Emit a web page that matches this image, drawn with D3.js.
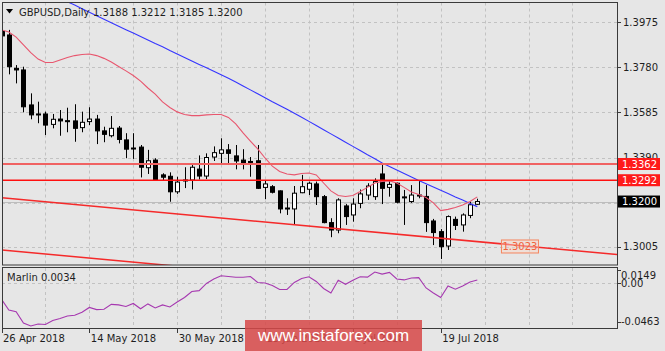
<!DOCTYPE html>
<html><head><meta charset="utf-8">
<script src="https://cdn.jsdelivr.net/npm/d3@7"></script>
<style>html,body{margin:0;padding:0;background:#e6e6e6;overflow:hidden}</style>
</head><body>
<svg id="c" width="665" height="351"></svg>
<script>
// ---------- DATA ----------
const dates = ["2018-04-26","2018-04-27","2018-04-30","2018-05-01","2018-05-02","2018-05-03","2018-05-04","2018-05-07","2018-05-08","2018-05-09",
"2018-05-10","2018-05-11","2018-05-14","2018-05-15","2018-05-16","2018-05-17","2018-05-18","2018-05-21","2018-05-22","2018-05-23",
"2018-05-24","2018-05-25","2018-05-28","2018-05-29","2018-05-30","2018-05-31","2018-06-01","2018-06-04","2018-06-05","2018-06-06",
"2018-06-07","2018-06-08","2018-06-11","2018-06-12","2018-06-13","2018-06-14","2018-06-15","2018-06-18","2018-06-19","2018-06-20",
"2018-06-21","2018-06-22","2018-06-25","2018-06-26","2018-06-27","2018-06-28","2018-06-29","2018-07-02","2018-07-03","2018-07-04",
"2018-07-05","2018-07-06","2018-07-09","2018-07-10","2018-07-11","2018-07-12","2018-07-13","2018-07-16","2018-07-17","2018-07-18",
"2018-07-19","2018-07-20","2018-07-23","2018-07-24","2018-07-25","2018-07-26"];

const open  = [1.3934,1.3919,1.3775,1.3768,1.3617,1.3578,1.3578,1.3533,1.3556,1.3549,1.3548,1.3519,1.3545,1.3556,1.3505,1.3484,1.3517,1.3466,1.3431,1.3435,
1.3346,1.3379,1.3315,1.3309,1.3242,1.3293,1.3293,1.3340,1.3310,1.3392,1.3408,1.3423,1.3397,1.3379,1.3373,1.3376,1.3261,1.3264,1.3246,1.3172,
1.3168,1.3238,1.3253,1.3276,1.3221,1.3109,1.3077,1.3181,1.3142,1.3192,1.3228,1.3221,1.3319,1.3261,1.3279,1.3220,1.3200,1.3228,1.3222,1.3116,
1.3070,1.3008,1.3123,1.3099,1.3140,1.3188];
const high  = [1.3949,1.3941,1.3789,1.3782,1.3667,1.3631,1.3588,1.3578,1.3595,1.3605,1.3620,1.3588,1.3607,1.3574,1.3523,1.3569,1.3526,1.3495,1.3495,1.3444,
1.3423,1.3387,1.3322,1.3326,1.3307,1.3348,1.3365,1.3399,1.3408,1.3438,1.3473,1.3448,1.3444,1.3426,1.3392,1.3444,1.3293,1.3271,1.3248,1.3214,
1.3267,1.3315,1.3286,1.3286,1.3228,1.3128,1.3214,1.3189,1.3214,1.3252,1.3279,1.3300,1.3362,1.3290,1.3282,1.3250,1.3271,1.3293,1.3271,1.3125,
1.3081,1.3140,1.3135,1.3149,1.3199,1.3212];
const low   = [1.3906,1.3749,1.3710,1.3585,1.3555,1.3538,1.3487,1.3516,1.3484,1.3499,1.3458,1.3499,1.3530,1.3448,1.3456,1.3477,1.3451,1.3387,1.3384,1.3304,
1.3319,1.3291,1.3293,1.3199,1.3233,1.3258,1.3252,1.3295,1.3297,1.3375,1.3366,1.3365,1.3339,1.3339,1.3307,1.3254,1.3210,1.3235,1.3149,1.3142,
1.3102,1.3236,1.3228,1.3185,1.3106,1.3046,1.3063,1.3099,1.3113,1.3171,1.3207,1.3207,1.3189,1.3221,1.3192,1.3099,1.3194,1.3214,1.3069,1.3012,
1.2952,1.2991,1.3077,1.3070,1.3128,1.3185];
const close = [1.3915,1.3782,1.3768,1.3609,1.3574,1.3575,1.3530,1.3555,1.3548,1.3546,1.3516,1.3542,1.3556,1.3505,1.3490,1.3516,1.3468,1.3426,1.3429,1.3348,
1.3376,1.3293,1.3305,1.3242,1.3284,1.3290,1.3348,1.3310,1.3390,1.3411,1.3423,1.3408,1.3375,1.3365,1.3371,1.3257,1.3276,1.3240,1.3168,1.3170,
1.3236,1.3264,1.3279,1.3221,1.3109,1.3077,1.3207,1.3135,1.3189,1.3233,1.3267,1.3286,1.3257,1.3274,1.3197,1.3217,1.3228,1.3224,1.3109,1.3066,
1.3005,1.3135,1.3097,1.3142,1.3186,1.3200];

const maFast = [1.3941,1.3932,1.3910,1.3876,1.3843,1.3815,1.3800,1.3800,1.3811,1.3822,1.3830,1.3835,1.3837,1.3830,1.3818,1.3802,1.3783,1.3764,1.3744,1.3720,
1.3690,1.3664,1.3630,1.3606,1.3587,1.3576,1.3571,1.3571,1.3574,1.3576,1.3576,1.3563,1.3535,1.3496,1.3461,1.3427,1.3388,1.3353,1.3330,1.3319,
1.3315,1.3321,1.3323,1.3315,1.3280,1.3246,1.3226,1.3222,1.3226,1.3243,1.3261,1.3280,1.3287,1.3289,1.3280,1.3261,1.3241,1.3230,1.3217,1.3194,
1.3161,1.3166,1.3174,1.3185,1.3200,1.3220];
const maSlow = [1.4197,1.4183,1.4168,1.4152,1.4137,1.4123,1.4108,1.4092,1.4077,1.4062,1.4048,1.4032,1.4017,1.4002,1.3987,1.3972,1.3957,1.3942,1.3927,1.3912,
1.3897,1.3882,1.3868,1.3852,1.3837,1.3822,1.3807,1.3792,1.3777,1.3762,1.3747,1.3732,1.3716,1.3699,1.3682,1.3665,1.3648,1.3631,1.3615,1.3598,
1.3581,1.3564,1.3546,1.3528,1.3510,1.3492,1.3474,1.3456,1.3438,1.3420,1.3402,1.3385,1.3366,1.3351,1.3336,1.3321,1.3306,1.3291,1.3277,1.3263,
1.3249,1.3235,1.3220,1.3207,1.3192,1.3178];

const marlin = [-0.0195,-0.0323,-0.0343,-0.0478,-0.0514,-0.0490,-0.0496,-0.0448,-0.0424,-0.0395,-0.0386,-0.0350,-0.0293,-0.0319,-0.0315,-0.0257,-0.0263,-0.0281,-0.0246,-0.0309,
-0.0251,-0.0299,-0.0263,-0.0287,-0.0228,-0.0174,-0.0103,-0.0093,-0.0007,0.0046,0.0085,0.0076,0.0067,0.0067,0.0075,0.0005,-0.0001,-0.0031,-0.0079,-0.0079,
0.0005,0.0052,0.0073,0.0017,-0.0067,-0.0120,0.0032,-0.0017,0.0032,0.0073,0.0068,0.0129,0.0104,0.0125,0.0046,0.0035,0.0058,0.0062,-0.0061,-0.0120,
-0.0174,-0.0037,-0.0075,-0.0037,0.0011,0.0034];

const priceTicks = [1.3975, 1.3780, 1.3585, 1.3390, 1.3195, 1.3005];
const marlinTicks = [0.0149, 0.00, -0.0463];
const marlinTickText = ["0.0149", "0.00", "-0.0463"];
const levels = [1.3362, 1.3292];
const bid = 1.3200;
const trendMain  = [[0.07, 1.32165], [84.08, 1.29713]];
const trendLower = [[0.07, 1.29908], [84.08, 1.27456]];
const trendLabel = "1.3023";
const titleSym = "GBPUSD,Daily";
const titleVals = "1.3188 1.3212 1.3185 1.3200";
const indName = "Marlin 0.0034";

// ---------- LAYOUT ----------
const L = 2, R = 617, T = 2.5, B = 265, IT = 268, IB = 329;
const FONT = "DejaVu Sans, Verdana, sans-serif";
const svg = d3.select("#c");
const parse = d3.timeParse("%Y-%m-%d");
const fmt = d3.timeFormat("%-d %b %Y");

const x = d3.scaleLinear().domain([0, dates.length - 1]).range([1.5, 477.3]);
const y = d3.scaleLinear().domain([1.3005, 1.3975]).range([246.7, 22]);
const ym = d3.scaleLinear().domain([-0.0463, 0.0149]).range([321.7, 270.35]);

svg.append("rect").attr("width", 665).attr("height", 351).attr("fill", "#e6e6e6");

const defs = svg.append("defs");
defs.append("clipPath").attr("id", "cm").append("rect").attr("x", L).attr("y", T).attr("width", R - L).attr("height", B - T);
defs.append("clipPath").attr("id", "ci").append("rect").attr("x", L).attr("y", IT).attr("width", R - L).attr("height", IB - IT);

const gm = svg.append("g").attr("clip-path", "url(#cm)");
const gi = svg.append("g").attr("clip-path", "url(#ci)");

// grid
const gridIdx = d3.range(6, 84, 6);
const gridCol = "#c2c2c2";
[ [gm, T, B], [gi, IT, IB] ].forEach(([g, t, b]) => {
  g.selectAll(null).data(gridIdx).join("line")
    .attr("x1", d => Math.round(x(d)) + 0.5).attr("x2", d => Math.round(x(d)) + 0.5)
    .attr("y1", t).attr("y2", b).attr("stroke", gridCol).attr("stroke-dasharray", "3,3");
});
gm.selectAll(null).data(priceTicks).join("line")
  .attr("x1", L).attr("x2", R).attr("y1", d => Math.round(y(d)) + 0.5).attr("y2", d => Math.round(y(d)) + 0.5)
  .attr("stroke", gridCol).attr("stroke-dasharray", "3,3");
gi.append("line").attr("x1", L).attr("x2", R).attr("y1", Math.round(ym(0)) + 0.5).attr("y2", Math.round(ym(0)) + 0.5)
  .attr("stroke", gridCol).attr("stroke-dasharray", "3,3");

// bid line
gm.append("line").attr("x1", L).attr("x2", R).attr("y1", Math.round(y(bid)) + 0.5).attr("y2", Math.round(y(bid)) + 0.5)
  .attr("stroke", "#bdbdbd").attr("stroke-width", 1);

// candles
const idx = d3.range(dates.length);
const cg = gm.append("g");
cg.selectAll(null).data(idx).join("line")
  .attr("x1", i => Math.round(x(i)) + 0.5).attr("x2", i => Math.round(x(i)) + 0.5)
  .attr("y1", i => y(high[i])).attr("y2", i => y(low[i]))
  .attr("stroke", "#000").attr("stroke-width", 1);
cg.selectAll(null).data(idx).join("rect")
  .attr("x", i => Math.round(x(i)) - 2 + 0.5)
  .attr("width", 4)
  .attr("y", i => Math.min(y(open[i]), y(close[i])))
  .attr("height", i => Math.max(1, Math.abs(y(open[i]) - y(close[i]))))
  .attr("fill", i => close[i] >= open[i] ? "#fff" : "#000")
  .attr("stroke", "#000").attr("stroke-width", 1);

// moving averages
const lineGen = d3.line().x((d, i) => x(i)).y(d => y(d));
gm.append("path").attr("d", lineGen(maSlow)).attr("fill", "none").attr("stroke", "#3535ff").attr("stroke-width", 1.1);
gm.append("path").attr("d", lineGen(maFast)).attr("fill", "none").attr("stroke", "#e8566e").attr("stroke-width", 1.1);

// horizontal levels
gm.append("line").attr("x1", L).attr("x2", R).attr("y1", y(levels[0])).attr("y2", y(levels[0]))
  .attr("stroke", "#f06262").attr("stroke-width", 2);
gm.append("line").attr("x1", L).attr("x2", R).attr("y1", y(levels[1])).attr("y2", y(levels[1]))
  .attr("stroke", "#ff1010").attr("stroke-width", 1.4);

// trend lines
[trendMain, trendLower].forEach(t => {
  gm.append("line").attr("x1", x(t[0][0])).attr("y1", y(t[0][1])).attr("x2", x(t[1][0])).attr("y2", y(t[1][1]))
    .attr("stroke", "#f52a2a").attr("stroke-width", 1.5);
});
// trend label box
const lbX = x(68.3), lbY = y(1.3034);
gm.append("rect").attr("x", lbX).attr("y", lbY).attr("width", 37).attr("height", 13)
  .attr("fill", "rgba(250,215,200,0.45)").attr("stroke", "#f5845e").attr("stroke-width", 1);
gm.append("text").attr("x", lbX + 18.5).attr("y", lbY + 10.5).attr("text-anchor", "middle")
  .attr("font-family", FONT).attr("font-size", 10).attr("fill", "#f0643c").text(trendLabel);

// marlin line
const mLine = d3.line().x((d, i) => x(i)).y(d => ym(d));
gi.append("path").attr("d", mLine(marlin)).attr("fill", "none").attr("stroke", "#a638b0").attr("stroke-width", 1.1);

// frames
const frameCol = "#3a3a3a";
svg.append("rect").attr("x", L + 0.5).attr("y", T).attr("width", R - L).attr("height", B - T)
  .attr("fill", "none").attr("stroke", frameCol).attr("stroke-width", 1);
svg.append("rect").attr("x", L + 0.5).attr("y", IT - 0.5).attr("width", R - L).attr("height", IB - IT)
  .attr("fill", "none").attr("stroke", frameCol).attr("stroke-width", 1);

// price axis labels
const ax = svg.append("g").attr("font-family", FONT).attr("font-size", 10).attr("fill", "#1e1e1e");
ax.selectAll(null).data(priceTicks).join("line")
  .attr("x1", R).attr("x2", R + 4).attr("y1", d => Math.round(y(d)) + 0.5).attr("y2", d => Math.round(y(d)) + 0.5).attr("stroke", frameCol);
ax.selectAll(null).data(priceTicks).join("text")
  .attr("x", 623).attr("y", d => y(d) + 3.7).text(d => d.toFixed(4));

// marlin axis labels
const mOff = [5, 0, 0];
ax.selectAll(null).data(marlinTicks).join("line")
  .attr("x1", R).attr("x2", R + 4).attr("y1", d => Math.round(ym(d)) + 0.5).attr("y2", d => Math.round(ym(d)) + 0.5).attr("stroke", frameCol);
ax.selectAll(null).data(marlinTicks).join("text")
  .attr("x", 621).attr("y", (d, i) => ym(d) + 3.7 + mOff[i]).text((d, i) => marlinTickText[i]);

// level boxes
const boxes = [[levels[0], "#ff1a1a"], [levels[1], "#ff1a1a"], [bid, "#000"]];
boxes.forEach(([v, c]) => {
  svg.append("rect").attr("x", 618).attr("y", y(v) - 6).attr("width", 42).attr("height", 12).attr("fill", c);
  svg.append("text").attr("x", 622).attr("y", y(v) + 3.7).attr("font-family", FONT).attr("font-size", 10)
    .attr("fill", "#fff").text(v.toFixed(4));
});

// date axis
const labIdx = d3.range(0, dates.length, 12);
ax.selectAll(null).data(labIdx).join("line")
  .attr("x1", i => Math.round(x(i)) + 0.5).attr("x2", i => Math.round(x(i)) + 0.5)
  .attr("y1", IB).attr("y2", IB + 4).attr("stroke", frameCol);
ax.selectAll(null).data(labIdx).join("text")
  .attr("x", i => x(i) + 1.5).attr("y", 342).text(i => fmt(parse(dates[i])));

// title
svg.append("path").attr("d", "M6,9 L13,9 L9.5,13.5 Z").attr("fill", "#000");
svg.append("text").attr("x", 19).attr("y", 15.5).attr("font-family", FONT).attr("font-size", 10).attr("fill", "#1e1e1e").text(titleSym);
svg.append("text").attr("x", 93).attr("y", 15.5).attr("font-family", FONT).attr("font-size", 10).attr("fill", "#1e1e1e").text(titleVals);
svg.append("text").attr("x", 7).attr("y", 281).attr("font-family", FONT).attr("font-size", 10).attr("fill", "#1e1e1e").text(indName);

// watermark
svg.append("rect").attr("x", 245).attr("y", 320).attr("width", 177).attr("height", 31).attr("fill", "rgba(214,72,72,0.86)");
svg.append("text").attr("x", 333.5).attr("y", 341).attr("text-anchor", "middle")
  .attr("font-family", "Liberation Sans, Arial, sans-serif").attr("font-size", 17).attr("fill", "#fff").text("www.instaforex.com");
</script>
</body></html>
